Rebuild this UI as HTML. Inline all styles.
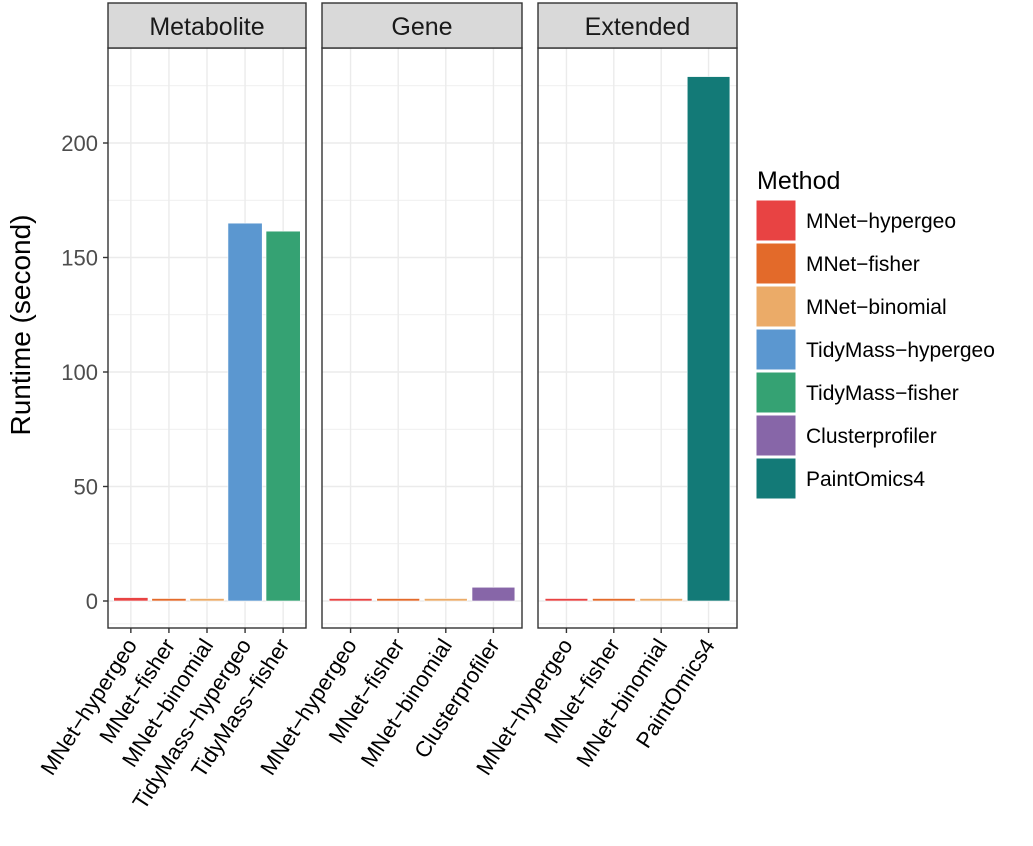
<!DOCTYPE html>
<html><head><meta charset="utf-8"><style>body{margin:0;background:#fff}svg{display:block;font-family:"Liberation Sans",Arial,sans-serif}</style></head>
<body>
<svg id="c" width="1033" height="846" viewBox="0 0 1033 846"></svg>
<script>
const methods=["MNet-hypergeo","MNet-fisher","MNet-binomial","TidyMass-hypergeo","TidyMass-fisher","Clusterprofiler","PaintOmics4"];
const colors=["#E84343","#E36A2A","#EBAB68","#5B97D0","#35A273","#8766A8","#137A77"];
const panels=["Metabolite","Gene","Extended"];
const metCats=["MNet-hypergeo","MNet-fisher","MNet-binomial","TidyMass-hypergeo","TidyMass-fisher"];
const metVals=[1.5,0.4,0.4,165,161.5];
const geneCats=["MNet-hypergeo","MNet-fisher","MNet-binomial","Clusterprofiler"];
const geneVals=[0.5,0.4,0.4,6];
const extCats=["MNet-hypergeo","MNet-fisher","MNet-binomial","PaintOmics4"];
const extVals=[0.5,0.6,0.4,229];
const yTicks=[0,50,100,150,200];
const NS="http://www.w3.org/2000/svg";
const svgEl=document.getElementById('c');
function mk(t,a,p){const e=document.createElementNS(NS,t);for(const k in a)e.setAttribute(k,a[k]);(p||svgEl).appendChild(e);return e;}
const plotTop=48,plotBot=628;
const yS=v=>601-v*2.29;
const pan=[[108,306,metCats,metVals],[322,522,geneCats,geneVals],[538,737,extCats,extVals]];
pan.forEach((p,pi)=>{
 const [x0,x1,cats,vals]=p;
 const g=mk('g',{});
 
 
 const s=(x1-x0)/(cats.length-1+1.2);
 const cx=i=>x0+s*(0.6+i);
 yTicks.forEach(t=>{mk('line',{x1:x0,x2:x1,y1:yS(t),y2:yS(t),stroke:'#ebebeb','stroke-width':1.4},g);});
 yTicks.forEach(t=>{mk('line',{x1:x0,x2:x1,y1:yS(t+25),y2:yS(t+25),stroke:'#ebebeb','stroke-width':0.7},g);});
 mk('line',{x1:x0,x2:x1,y1:yS(-10),y2:yS(-10),stroke:'#ebebeb','stroke-width':0.7},g);
 cats.forEach((c,i)=>{mk('line',{x1:cx(i),x2:cx(i),y1:plotTop,y2:plotBot,stroke:'#ebebeb','stroke-width':1.4},g);});
 cats.forEach((c,i)=>{
  const h=Math.max(yS(0)-yS(vals[i]),2.5);
  const b=mk('rect',{x:cx(i)-s*0.45,width:s*0.9,y:yS(0)-h,height:h,fill:colors[methods.indexOf(c)],stroke:'#fff','stroke-width':0.6},g);
  
  
  mk('line',{x1:cx(i),x2:cx(i),y1:plotBot,y2:plotBot+5,stroke:'#333','stroke-width':1.4},g);
  const tx=mk('text',{x:0,y:0,'font-size':22,fill:'#000','text-anchor':'end',transform:`translate(${cx(i)+7},${plotBot+17}) rotate(-57)`},g);
  tx.textContent=c.replace('-','\u2212');
  
  
 });
 mk('rect',{x:x0,y:plotTop,width:x1-x0,height:plotBot-plotTop,fill:'none',stroke:'#333','stroke-width':1.4},g);
 const st=mk('rect',{x:x0,y:3,width:x1-x0,height:45,fill:'#d9d9d9',stroke:'#333','stroke-width':1.4},g);
 
 
 const sl=mk('text',{x:(x0+x1)/2,y:35,'font-size':25,'text-anchor':'middle',fill:'#1a1a1a'},g);
 sl.textContent=panels[pi];
 
 
});
yTicks.forEach(t=>{
 mk('line',{x1:103,x2:108,y1:yS(t),y2:yS(t),stroke:'#333','stroke-width':1.4});
 const tx=mk('text',{x:98,y:yS(t)+8,'font-size':22,'text-anchor':'end',fill:'#4d4d4d'});
 tx.textContent=t;
 
 
});
const yt=mk('text',{x:0,y:0,'font-size':28,'text-anchor':'middle',fill:'#000',transform:'translate(30,325) rotate(-90)'});
yt.textContent='Runtime (second)';


const lg=mk('g',{});


const lt=mk('text',{x:757,y:189,'font-size':25,fill:'#000'},lg);
lt.textContent='Method';


methods.forEach((m,i)=>{
 const e=mk('g',{},lg);
 
 
 mk('rect',{x:756,y:200+i*43,width:40,height:41,fill:colors[i],stroke:'#fff','stroke-width':1},e);
 const t=mk('text',{x:806,y:228+i*43,'font-size':21,fill:'#000'},e);
 t.textContent=m.replace('-','\u2212');
});
</script>
</body></html>
